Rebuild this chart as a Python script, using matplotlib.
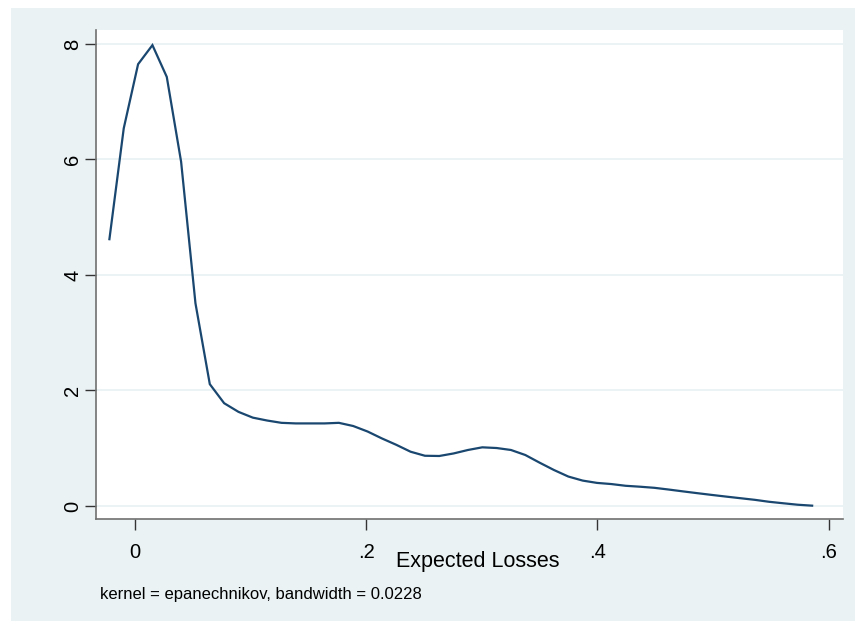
import numpy as np
import matplotlib
matplotlib.use("Agg")
import matplotlib.pyplot as plt
from matplotlib.patches import Rectangle

plt.rcParams['font.family'] = ['Liberation Sans', 'DejaVu Sans']

# Kernel density estimate (50 evaluation points)
x_start = -0.0222
x_end = 0.5857
density = [4.62, 6.54, 7.65, 7.98, 7.43, 5.96, 3.51, 2.11, 1.78, 1.63,
           1.53, 1.48, 1.44, 1.43, 1.43, 1.43, 1.44, 1.385, 1.29, 1.17,
           1.06, 0.94, 0.87, 0.866, 0.91, 0.97, 1.016, 1.004, 0.97, 0.883,
           0.75, 0.623, 0.51, 0.44, 0.40, 0.38, 0.35, 0.334, 0.315, 0.285,
           0.253, 0.222, 0.192, 0.163, 0.135, 0.107, 0.073, 0.047, 0.022, 0.006]
expected_losses = np.linspace(x_start, x_end, len(density))

x_ticks = [0, 0.2, 0.4, 0.6]
x_tick_labels = ["0", ".2", ".4", ".6"]
y_ticks = [0, 2, 4, 6, 8]
y_tick_labels = ["0", "2", "4", "6", "8"]
x_title = "Expected Losses"
note = "kernel = epanechnikov, bandwidth = 0.0228"

W, H = 855, 621
bg = "#EAF2F3"
line_color = "#1A476F"
axis_color = "#707070"

fig = plt.figure(figsize=(W / 100, H / 100), dpi=100)
fig.patch.set_facecolor("white")
fig.patches.append(Rectangle((11 / W, 0), 1 - 11 / W, 1 - 8 / H,
                             transform=fig.transFigure, facecolor=bg,
                             edgecolor="none", zorder=-10))

ax = fig.add_axes([96 / W, (H - 519) / H, (843 - 96) / W, (519 - 30) / H])
ax.set_facecolor("white")
ax.plot(expected_losses, density, color=line_color, lw=1.6, solid_joinstyle="miter")

ax.set_xlim(-0.0338, 0.6124)
ax.set_ylim(-0.225, 8.242)

ax.set_xticks(x_ticks)
ax.set_xticklabels(x_tick_labels)
ax.set_yticks(y_ticks)
ax.set_yticklabels(y_tick_labels, rotation=90, va="center")

for s in ["top", "right"]:
    ax.spines[s].set_visible(False)
for s in ["left", "bottom"]:
    ax.spines[s].set_color(axis_color)
    ax.spines[s].set_linewidth(1.2)

ax.tick_params(axis="both", length=8, width=1.0, color="#333333",
               labelsize=14.5, labelcolor="black", direction="out")
ax.tick_params(axis="x", pad=9)
ax.tick_params(axis="y", pad=2)

ax.grid(axis="y", color=bg, lw=1.3)
ax.set_axisbelow(True)

fig.text(478 / W, 1 - 561 / H, x_title, ha="center", va="center",
         fontsize=15.5, color="black")
fig.text(100 / W, 1 - 594 / H, note, ha="left", va="center",
         fontsize=12, color="black")

fig.savefig("out.png", dpi=100, facecolor=fig.get_facecolor())
